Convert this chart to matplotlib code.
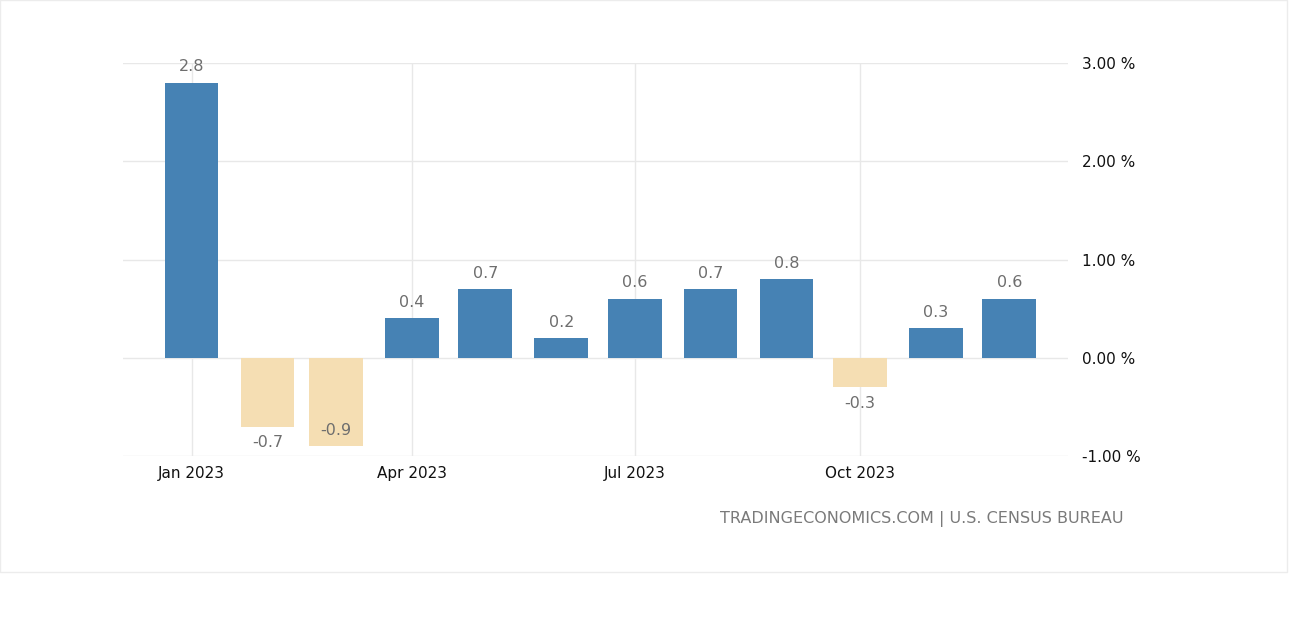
import matplotlib
matplotlib.use("Agg")
import matplotlib.pyplot as plt
import matplotlib.dates as mdates
from datetime import date, timedelta

# monthly change, %
months = [date(2023, m, 1) for m in range(1, 13)]
values = [2.8, -0.7, -0.9, 0.4, 0.7, 0.2, 0.6, 0.7, 0.8, -0.3, 0.3, 0.6]
tick_dates = [date(2023, 1, 1), date(2023, 4, 1), date(2023, 7, 1), date(2023, 10, 1)]
tick_labels = ["Jan 2023", "Apr 2023", "Jul 2023", "Oct 2023"]
y_ticks = [-1, 0, 1, 2, 3]
source = "TRADINGECONOMICS.COM | U.S. CENSUS BUREAU"

plt.rcParams["font.family"] = ["DejaVu Sans"]

W, H = 1292, 617
fig = plt.figure(figsize=(W / 100, H / 100), dpi=100)
ax = fig.add_axes([123 / W, (H - 456) / H, (1068 - 123) / W, (456 - 63) / H])

x = mdates.date2num(months)
colors = ["#4682b4" if v >= 0 else "#f5deb3" for v in values]
ax.bar(x, values, width=22, color=colors, zorder=2)

ax.set_xlim(mdates.date2num(date(2023, 1, 1) - timedelta(days=28.2)),
            mdates.date2num(date(2023, 1, 1) + timedelta(days=358.4)))
ax.set_ylim(-1, 3)

ax.set_xticks(mdates.date2num(tick_dates))
ax.set_xticklabels(tick_labels)
ax.set_yticks(y_ticks)
ax.set_yticklabels([f"{t:.2f} %" for t in y_ticks])
ax.yaxis.tick_right()
ax.tick_params(axis="both", length=0, labelsize=11, labelcolor="#111111")
ax.tick_params(axis="y", pad=10)
ax.tick_params(axis="x", pad=7)
ax.grid(True, color="#e8e8e8", linewidth=1, zorder=0)
for s in ax.spines.values():
    s.set_visible(False)

# value labels
lab = dict(ha="center", fontsize=11.5, color="#6e6e6e", textcoords="offset points")
for xi, v in zip(x, values):
    if v >= 0 or v - 0.25 < -1:
        ax.annotate(f"{v}", (xi, v), xytext=(0, 6), va="bottom", **lab)
    else:
        ax.annotate(f"{v}", (xi, v), xytext=(0, -6), va="top", **lab)

fig.text(1124 / W, 1 - 519 / H, source, ha="right", va="center",
         fontsize=11.5, color="#7a7a7a")

# outer frame
frame = plt.Rectangle((0, 1 - 572 / H), 1287 / W, 572 / H, transform=fig.transFigure,
                      fill=False, edgecolor="#ececec", linewidth=1)
fig.patches.append(frame)

fig.savefig("out.png", dpi=100)
